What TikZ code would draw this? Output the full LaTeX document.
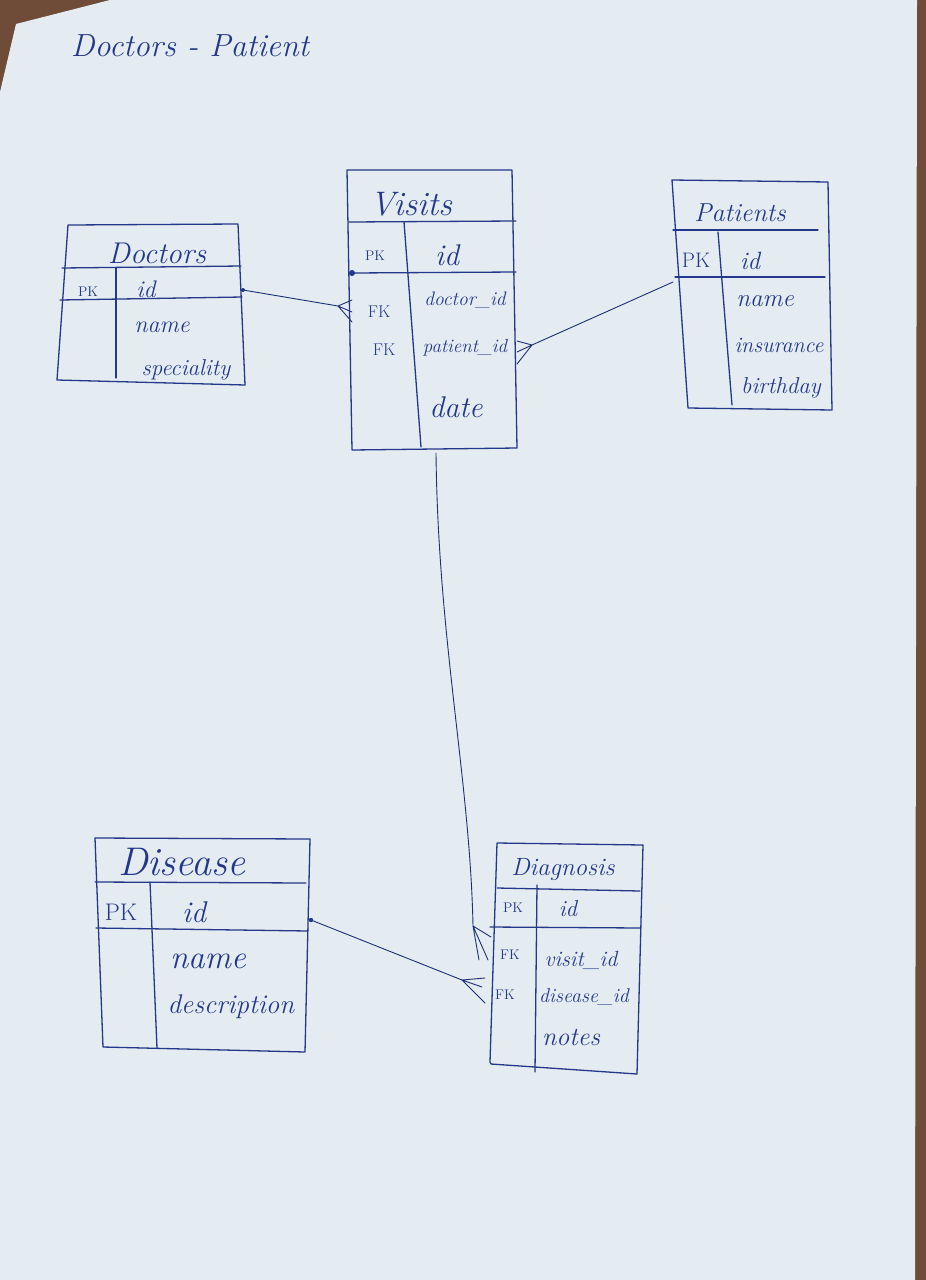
\documentclass[tikz,border=0pt]{standalone}
\usepackage{fontspec}
\setmainfont{Latin Modern Roman}
\definecolor{ink}{HTML}{23388A}
\definecolor{paper}{HTML}{E5ECF1}
\definecolor{wood}{HTML}{6E4C37}
\newcommand{\fs}[1]{\fontsize{#1}{#1}\selectfont}
\tikzset{
  pen/.style={draw=ink, line width=1.3pt, line join=round, line cap=round},
  thin/.style={draw=ink!85!black, line width=0.9pt, line cap=round},
  title/.style={text=ink, font=\fs{26}\itshape, inner sep=0pt},
  field/.style={text=ink, font=\fs{22}\itshape, inner sep=0pt},
  key/.style={text=ink, font=\fs{14}, inner sep=0pt},
}
\begin{document}
\begin{tikzpicture}[x=1pt,y=-1pt]
\useasboundingbox (0,0) rectangle (926,1280);
% background
\fill[wood] (0,0) rectangle (926,1280);
\fill[paper] (16,24) -- (110,0) -- (917,0) -- (915,1280) -- (0,1280) -- (0,92) -- cycle;

% title
\node[title, font=\fs{32}\itshape] (ttl) at (190,46) {Doctors - Patient};

% ---------- Doctors ----------
\coordinate (dTL) at (68,225); \coordinate (dTR) at (238,224);
\coordinate (dBR) at (245,385); \coordinate (dBL) at (57,380);
\draw[pen] (dTL) -- (dTR) -- (dBR) -- (dBL) -- cycle;
\draw[pen] (62,268) -- (241,266);
\draw[pen] (60,300) -- (242,297);
\draw[pen] (116,268) -- (116,378);
\node[title, font=\fs{30}\itshape] (dT) at (157,253) {Doctors};
\node[key] (dPK) at (88,292) {PK};
\node[field, font=\fs{24}\itshape] (d1) at (146,289) {id};
\node[field, font=\fs{24}\itshape] (d2) at (162,327) {name};
\node[field, font=\fs{23}\itshape] (d3) at (186,370) {speciality};
\coordinate (dId) at (243,290);

% ---------- Visits ----------
\coordinate (vTL) at (347,170); \coordinate (vTR) at (512,170);
\coordinate (vBR) at (517,448); \coordinate (vBL) at (352,450);
\draw[pen] (vTL) -- (vTR) -- (vBR) -- (vBL) -- cycle;
\draw[pen] (349,222) -- (516,221);
\draw[pen] (352,273) -- (516,272);
\draw[pen] (404,222) -- (421,447);
\fill[ink] (352,273) circle (3pt);
\node[title, font=\fs{34}\itshape] (vT) at (411,204) {Visits};
\node[key] (vPK) at (375,256) {PK};
\node[field, font=\fs{30}\itshape] (v1) at (447,255) {id};
\node[key, font=\fs{17}] (vFK1) at (379,312) {FK};
\node[field, font=\fs{19.5}\itshape] (v2) at (465,300) {doctor\_id};
\node[key, font=\fs{17}] (vFK2) at (384,350) {FK};
\node[field, font=\fs{19}\itshape] (v3) at (465,348) {patient\_id};
\node[field, font=\fs{30}\itshape] (v4) at (456,407) {date};

% ---------- Patients ----------
\coordinate (pTL) at (672,180); \coordinate (pTR) at (828,182);
\coordinate (pBR) at (832,410); \coordinate (pBL) at (688,408);
\draw[pen] (pTL) -- (pTR) -- (pBR) -- (pBL) -- cycle;
\draw[pen] (673,230) -- (818,230);
\draw[pen] (675,277) -- (825,277);
\draw[pen] (718,232) -- (732,405);
\node[title] (pT) at (740,213) {Patients};
\node[key, font=\fs{21}] (pPK) at (696,260) {PK};
\node[field, font=\fs{25}\itshape] (p1) at (750,261) {id};
\node[field, font=\fs{25}\itshape] (p2) at (765,301) {name};
\node[field, font=\fs{22}\itshape] (p3) at (779,345) {insurance};
\node[field, font=\fs{23}\itshape] (p4) at (781,388) {birthday};

% ---------- Disease ----------
\coordinate (sTL) at (95,838); \coordinate (sTR) at (310,839);
\coordinate (sBR) at (305,1052); \coordinate (sBL) at (103,1047);
\draw[pen] (sTL) -- (sTR) -- (sBR) -- (sBL) -- cycle;
\draw[pen] (95,882) -- (306,883);
\draw[pen] (96,928) -- (308,931);
\draw[pen] (150,882) -- (157,1048);
\node[title, font=\fs{40}\itshape] (sT) at (182,862) {Disease};
\node[key, font=\fs{24}] (sPK) at (121,912) {PK};
\node[field, font=\fs{30}\itshape] (s1) at (194,912) {id};
\node[field, font=\fs{33}\itshape] (s2) at (208,961) {name};
\node[field, font=\fs{27}\itshape] (s3) at (231,1007) {description};
\coordinate (sId) at (311,920);

% ---------- Diagnosis ----------
\coordinate (gTL) at (497,843); \coordinate (gTR) at (643,845);
\coordinate (gBR) at (637,1074); \coordinate (gBL) at (490,1062);
\draw[pen] (gTL) -- (gTR) -- (gBR) -- (491,1064) -- (gBL) -- cycle;
\draw[pen] (497,888) -- (640,891);
\draw[pen] (490,927) -- (641,928);
\draw[pen] (537,885) -- (535,1072);
\node[title, font=\fs{25}\itshape] (gT) at (563,870) {Diagnosis};
\node[key] (gPK) at (513,908) {PK};
\node[field, font=\fs{23}\itshape] (g1) at (568,909) {id};
\node[key] (gFK1) at (510,955) {FK};
\node[field, font=\fs{22}\itshape] (g2) at (581,960) {visit\_id};
\node[key] (gFK2) at (505,995) {FK};
\node[field, font=\fs{20}\itshape] (g3) at (584,997) {disease\_id};
\node[field, font=\fs{26}\itshape] (g4) at (571,1037) {notes};

% ---------- connectors ----------
% Doctors -> Visits
\coordinate (c1) at (338,306);
\draw[thin] (dId) -- (c1);
\draw[thin] (c1) -- (352,300) (c1) -- (352,312) (c1) -- (352,322);
\fill[ink] (dId) circle (2pt);
% Patients -> Visits
\coordinate (pId) at (673,282);
\coordinate (c2) at (532,345);
\draw[thin] (pId) -- (c2);
\draw[thin] (c2) -- (517,341) (c2) -- (517,352) (c2) -- (517,364);
% Visits -> Diagnosis
\coordinate (vId) at (436,453);
\coordinate (c3) at (473,926);
\draw[thin] (vId) .. controls (438,640) and (470,780) .. (c3);
\draw[thin] (c3) -- (491,937) (c3) -- (479,960) (c3) -- (488,960);
% Disease -> Diagnosis
\coordinate (c4) at (462,980);
\draw[thin] (sId) -- (c4);
\draw[thin] (c4) -- (485,978) (c4) -- (482,987) (c4) -- (485,1003);
\fill[ink] (sId) circle (2.2pt);
\end{tikzpicture}
\end{document}
